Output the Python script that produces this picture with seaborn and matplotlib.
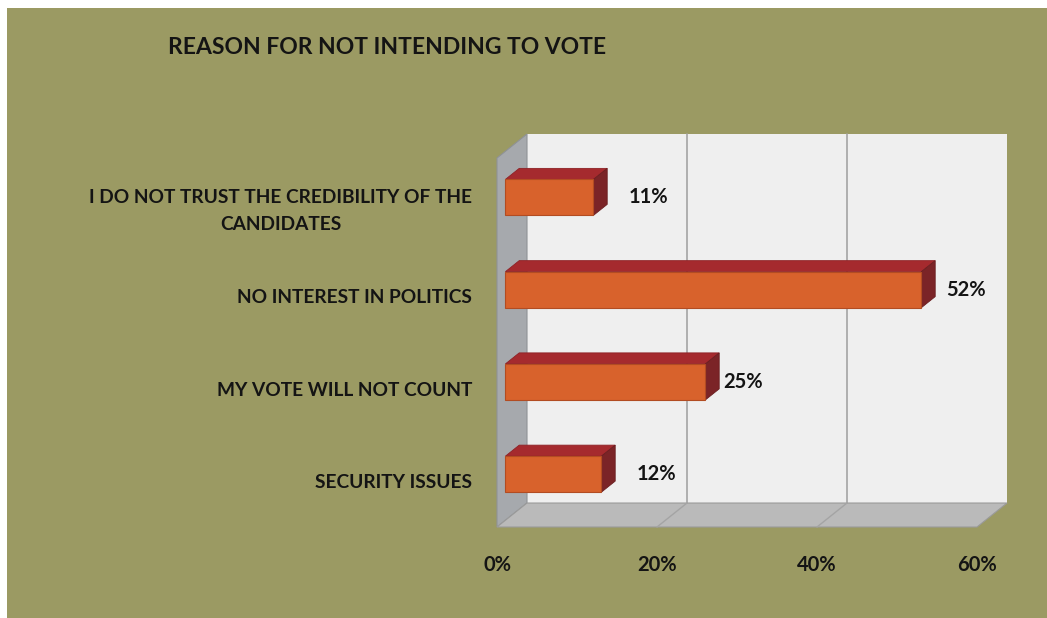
import matplotlib
matplotlib.use("Agg")
import matplotlib.pyplot as plt
from matplotlib.patches import Polygon, Rectangle
from matplotlib.transforms import Affine2D
import seaborn as sns
import pandas as pd

# Survey results
reasons = [
    "I DO NOT TRUST THE CREDIBILITY OF THE\nCANDIDATES",
    "NO INTEREST IN POLITICS",
    "MY VOTE WILL NOT COUNT",
    "SECURITY ISSUES",
]
shares = [11, 52, 25, 12]
x_ticks = [0, 20, 40, 60]
x_tick_labels = ["0%", "20%", "40%", "60%"]
title = "REASON FOR NOT INTENDING TO VOTE"

# value label nudges (in % units, to the right of each bar)
label_nudge = [5.4, 4.2, 3.3, 5.5]

# colours
BG = "#9b9a63"
WALL = "#efefef"
SIDE = "#a6a9ad"
FLOOR = "#bababa"
GRID = "#a4a4a4"
FRONT = "#d8622c"
TOP = "#a52a2e"
RIGHT = "#7b2427"
INK = "#141414"

sns.set_theme(style="white")
plt.rcParams["font.family"] = ["Lato", "DejaVu Sans"]

W, H = 1047, 618
fig = plt.figure(figsize=(W / 100, H / 100), dpi=100, facecolor="white")
fig.patches.append(Rectangle((7 / W, -0.05), 1.1, 1.05 - 8 / H,
                             transform=fig.transFigure, facecolor=BG,
                             edgecolor="none", zorder=-10))

# front plane of the 3-D box
ax = fig.add_axes([497 / W, (H - 527) / H, 480 / W, 369 / H])
ax.set_facecolor("none")

df = pd.DataFrame({"reason": reasons, "share": shares})
sns.barplot(data=df, x="share", y="reason", order=reasons, orient="h",
            color=FRONT, saturation=1, width=0.39, ax=ax,
            edgecolor="#b24c22", linewidth=0.8, zorder=3)

ax.set_xlim(0, 60)
ax.set_ylim(3.5, -0.5)

# depth of the box (data units) and depth placement of bars
DX, DY = 3.75, -0.26
a, b = 0.28, 0.74
e = b - a
x0, x1 = 0, 60
y0, y1 = -0.5, 3.5

# walls
ax.add_patch(Polygon([(x0 + DX, y0 + DY), (x1 + DX, y0 + DY),
                      (x1 + DX, y1 + DY), (x0 + DX, y1 + DY)],
                     closed=True, facecolor=WALL, edgecolor="none",
                     clip_on=False, zorder=0))
ax.add_patch(Polygon([(x0, y0), (x0 + DX, y0 + DY), (x0 + DX, y1 + DY),
                      (x0, y1)], closed=True, facecolor=SIDE,
                     edgecolor="#8f9296", linewidth=0.8,
                     clip_on=False, zorder=0.2))
ax.add_patch(Polygon([(x0, y1), (x1, y1), (x1 + DX, y1 + DY),
                      (x0 + DX, y1 + DY)], closed=True, facecolor=FLOOR,
                     edgecolor="#9a9a9a", linewidth=0.8,
                     clip_on=False, zorder=0.2))

# gridlines on the back wall and floor
for g in x_ticks[1:-1]:
    ax.plot([g + DX, g + DX], [y0 + DY, y1 + DY], color=GRID, lw=1.2,
            clip_on=False, zorder=0.5)
    ax.plot([g + DX, g], [y1 + DY, y1], color=GRID, lw=1.0,
            clip_on=False, zorder=0.5)

# move bar fronts into depth and add top / side faces
shift = Affine2D().translate(a * DX, a * DY)
bars = [p for p in ax.patches if isinstance(p, Rectangle)][:len(shares)]
for p in bars:
    p.set_transform(shift + ax.transData)
    xl = p.get_x() + a * DX
    xr = p.get_x() + p.get_width() + a * DX
    yt = p.get_y() + a * DY
    yb = p.get_y() + p.get_height() + a * DY
    ax.add_patch(Polygon([(xl, yt), (xr, yt), (xr + e * DX, yt + e * DY),
                          (xl + e * DX, yt + e * DY)], closed=True,
                         facecolor=TOP, edgecolor="#8e2226", lw=0.6,
                         zorder=2))
    ax.add_patch(Polygon([(xr, yt), (xr + e * DX, yt + e * DY),
                          (xr + e * DX, yb + e * DY), (xr, yb)], closed=True,
                         facecolor=RIGHT, edgecolor="#6a1e20", lw=0.6,
                         zorder=2))

# value labels
for i, v in enumerate(shares):
    ax.text(v + label_nudge[i], i + a * DY, f"{v}%", ha="left", va="center",
            fontsize=14.5, fontweight="bold", color=INK, zorder=5)

# axes styling
for s in ax.spines.values():
    s.set_visible(False)
ax.set_xlabel("")
ax.set_ylabel("")
ax.set_xticks(x_ticks)
ax.set_xticklabels(x_tick_labels, fontsize=14.5, fontweight="bold", color=INK)
ax.tick_params(axis="x", length=0, pad=20)
ax.set_yticks(range(len(reasons)))
ax.set_yticklabels(reasons, fontsize=13.8, fontweight="bold", color=INK,
                   linespacing=1.75)
for t in ax.get_yticklabels():
    t.set_multialignment("center")
ax.tick_params(axis="y", length=0, pad=18)
ax.set_yticks([-0.5, 0.5, 1.5, 2.5, 3.5], minor=True)
ax.tick_params(axis="y", which="minor", length=5, width=0.8, color="#8a8a6a",
               direction="out")

fig.text(168 / W, 1 - 48 / H, title, ha="left", va="center", fontsize=16.5,
         fontweight="bold", color=INK)

fig.savefig("out.png", dpi=100, facecolor=fig.get_facecolor())
